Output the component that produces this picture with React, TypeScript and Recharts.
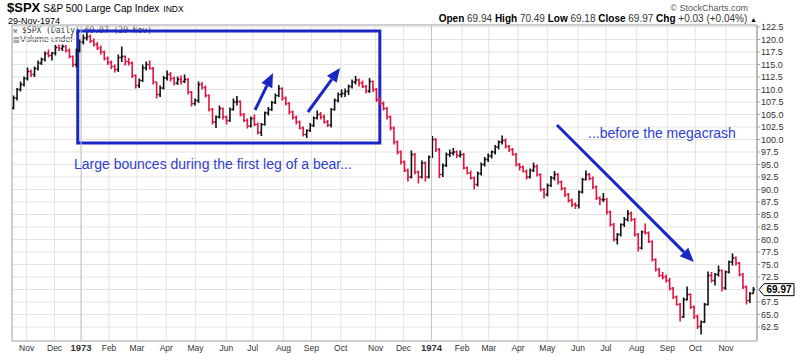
import { ComposedChart, Bar, XAxis, YAxis, CartesianGrid, ReferenceArea, ReferenceLine } from "recharts";

// half-week (2.5 trading day) OHLC, 20-Oct-1972 .. 29-Nov-1974
const halfHigh = [
  108.8, 110.3, 111.6, 112.6, 114.4, 114, 114.6, 115.8, 116.4, 117.6,
  118, 117.5, 118.9, 119, 119, 118.9, 118.2, 116.8, 118.2, 120,
  121, 121.3, 121, 120.2, 119.5, 118.8, 117.8, 116.6, 115.8, 115,
  117, 118.6, 116.8, 116.3, 115.6, 113, 112.2, 115, 115.6, 115.8,
  114.5, 111.5, 110.8, 112.7, 113.8, 113.5, 112.6, 112.6, 112.8, 113,
  112.3, 109.7, 108.2, 111.6, 111.5, 110.8, 109, 106.3, 104.8, 106.8,
  106.4, 104.8, 106.4, 108.2, 108.7, 107.8, 105.3, 104.2, 104.6, 105,
  103.4, 103.3, 105.6, 106.5, 107.7, 109.2, 110.9, 110.4, 108.6, 107.5,
  105.8, 104.8, 103.8, 102.6, 102, 103.3, 104.6, 105.8, 105.5, 105,
  103.9, 106.3, 108.2, 109.4, 110, 110.2, 111, 112, 112.7, 112.2,
  111.8, 110.9, 112.3, 111.8, 110.3, 108.5, 107.6, 106.5, 104.8, 102.6,
  99.8, 97.8, 95.8, 94.2, 97.8, 97.3, 93.8, 95.8, 95.6, 96.8,
  100.7, 100.3, 98.3, 95.2, 97.4, 98, 98.3, 97.8, 97.8, 97.3,
  94.6, 93.8, 92.6, 93.6, 95.4, 96.5, 97.2, 97.8, 98.9, 99.8,
  100.8, 100.2, 98.9, 98.3, 97.3, 95.3, 94.8, 94, 94.2, 95.4,
  95, 93.2, 90.3, 91.2, 92.7, 93.7, 93.3, 91.8, 90.5, 89.3,
  88.2, 87.4, 89.8, 92.3, 93.8, 93.3, 92.6, 90.8, 88.6, 89.3,
  88.3, 85.8, 83.3, 81.3, 83.2, 84.5, 85.9, 85.6, 84.3, 81.3,
  81.8, 83.2, 81.6, 79.8, 76.2, 74.3, 73.5, 73, 72.3, 70.5,
  68.8, 67.3, 68.4, 70.6, 69.2, 66.8, 65, 63.8, 67.3, 73.6,
  73.5, 73.3, 74.8, 74, 73.8, 75.8, 77.2, 76.6, 75.5, 73.3,
  70.8, 69.5, 70.5,
];
const halfLow = [
  106, 107.8, 109.6, 110.6, 111.8, 112.5, 112.5, 113.8, 114.9, 115.6,
  116.4, 115.8, 116.8, 117.7, 117.7, 117.4, 116.2, 114.5, 114.4, 117.4,
  119, 119.8, 119.3, 118.6, 117.9, 117, 115.8, 114.9, 114.1, 113.4,
  113.5, 115.5, 114.8, 114.8, 112.3, 110.2, 110.3, 111.5, 113.8, 114,
  111, 108.2, 108.5, 110, 111.8, 111.6, 110.8, 110.9, 111, 111.3,
  109, 106.6, 106.8, 107.3, 110, 108.4, 105.6, 103, 102.3, 104.2,
  104, 103, 103.5, 105.8, 106.8, 104.6, 103.5, 102.2, 102.4, 102.7,
  101, 100.7, 102.8, 104.8, 105.7, 107.1, 108.5, 107.8, 106.8, 105,
  104, 103, 102, 100.6, 100.3, 101.5, 102.5, 104, 104, 103.2,
  102.5, 102.4, 105.8, 107.4, 108.4, 108.5, 108.9, 110.2, 111, 110.6,
  110.3, 109.2, 109.3, 109.5, 107.5, 106.9, 105.8, 104, 101.8, 99,
  97, 95, 93.5, 91.6, 92.2, 93, 91.2, 92.2, 91.6, 92.2,
  96.3, 97.5, 92.3, 92.5, 94.5, 96.5, 96.8, 96.3, 96.4, 94,
  93, 92, 90, 90.6, 92.8, 94.6, 95.5, 96.2, 97, 98,
  99, 98.2, 97.5, 96.8, 94.6, 93.8, 93.4, 92, 92.2, 93.5,
  92.6, 89.6, 88.2, 88.6, 90.5, 91.8, 91, 89.8, 88.5, 87.4,
  86.5, 86.1, 86.2, 89.2, 91.8, 91.8, 90.1, 87.9, 86.9, 87.5,
  85, 82.6, 79.6, 79, 80.6, 82.5, 83.6, 83.6, 80.6, 77.6,
  78, 81, 79.3, 75.6, 73.6, 72.5, 72, 71.4, 69.8, 68.1,
  66.8, 63.6, 64.3, 67.8, 66.1, 64.1, 62.1, 61, 63.3, 66.8,
  71.4, 70.8, 72.6, 69.6, 69.9, 73.2, 74.8, 74.8, 72.6, 70.1,
  67, 67.3, 69.2,
];
const halfClose = [
  108.3, 110, 111, 112.2, 113.6, 113, 114.2, 115.3, 116, 117.2,
  116.8, 117.3, 118.4, 118.2, 118.6, 117.8, 116.6, 115, 117.8, 119.5,
  120.3, 120.6, 119.7, 119, 118.3, 117.5, 116.2, 115.4, 114.6, 114,
  116.4, 116.6, 115.6, 115.3, 112.8, 110.8, 111.8, 114.3, 115, 114.2,
  111.5, 109, 110.3, 112.3, 113, 112.2, 111.3, 112, 111.6, 112,
  109.5, 107.2, 107.8, 111, 110.4, 108.8, 106, 103.5, 104.5, 106.2,
  104.5, 103.8, 106, 107.5, 107.6, 105, 103.8, 102.7, 104.2, 103,
  101.4, 103, 105.3, 106, 107.4, 108.8, 110.2, 108.3, 107.2, 105.5,
  104.4, 103.5, 102.3, 101, 101.8, 102.8, 104.3, 105, 104.5, 103.5,
  102.9, 106, 107.8, 109, 109.2, 109.6, 110.6, 111.5, 111.9, 111.3,
  110.6, 109.7, 111.6, 110, 108, 107.2, 106.2, 104.5, 102.3, 99.5,
  97.5, 95.5, 93.8, 92.5, 97, 93.5, 92.5, 95.3, 92.5, 96.5,
  100, 98, 93, 94.8, 97, 97.3, 97.5, 96.8, 97, 94.3,
  93.3, 92.3, 91, 93.2, 95, 96, 96.7, 97.5, 98.5, 99.5,
  99.8, 98.6, 98, 97, 95, 94.5, 93.6, 92.5, 93.8, 94.6,
  93, 90, 89, 90.8, 92.3, 93, 91.5, 90.2, 89, 87.8,
  87, 86.8, 89.5, 92, 93, 92.2, 90.5, 88.3, 88, 88,
  85.5, 83, 80, 81, 83, 84, 85.2, 84, 81, 78.3,
  81.5, 81.3, 79.6, 76, 74, 72.8, 72.5, 71.8, 70.2, 68.5,
  67, 64.5, 68, 69, 66.5, 64.6, 62.6, 63.5, 67, 72.8,
  71.8, 73, 73.8, 70.3, 73.5, 75.5, 76.3, 75.3, 73, 70.5,
  67.8, 69.2, 69.97,
];
const firstOpen = 106.3;
const lastClose = 69.97;

// x = trading day index from 20-Oct-1972
const monthTicks = [10, 30, 49, 69, 89, 110, 131, 153, 172, 194, 214, 235, 260, 280, 300, 322, 341, 362, 383, 405, 425, 447, 469, 489, 511];
const monthLabels = ["Nov", "Dec", "1973", "Feb", "Mar", "Apr", "May", "Jun", "Jul", "Aug", "Sep", "Oct", "Nov", "Dec", "1974", "Feb", "Mar", "Apr", "May", "Jun", "Jul", "Aug", "Sep", "Oct", "Nov"];
const yearTicks = [49, 300];
const priceTicks = [62.5, 65, 67.5, 70, 72.5, 75, 77.5, 80, 82.5, 85, 87.5, 90, 92.5, 95, 97.5, 100, 102.5, 105, 107.5, 110, 112.5, 115, 117.5, 120, 122.5];

// annotations (data coordinates)
const bounceBox = { x1: 46.6, x2: 263, y1: 99.3, y2: 121.7 };
const bounceArrows = [
  [{ x: 173.6, y: 105.9 }, { x: 186.5, y: 113.3 }],
  [{ x: 211.5, y: 105.5 }, { x: 234.5, y: 114.3 }],
];
const crashArrow = [{ x: 389.9, y: 102.9 }, { x: 488, y: 75.5 }];

const X_DOMAIN = [-0.5, 533.2];
const Y_DOMAIN = [59.7, 122.9];
const RED = "#e0143f";
const BLUE = "#1b27c4";
const TEXT_BLUE = "#3040d0";
const FONT = "'Liberation Sans', Arial, sans-serif";

const data = halfClose.map((close, i) => ({
  d: 2.5 * i + 0.75,
  range: [halfLow[i], halfHigh[i]],
  open: i === 0 ? firstOpen : halfClose[i - 1],
  close,
}));

function OhlcStick(props: any) {
  const { x, y, width, height, payload } = props;
  if (!payload) return null;
  const [lo, hi] = payload.range;
  const top = Math.min(y, y + height);
  const h = Math.abs(height);
  const yOf = (v: number) => top + ((hi - v) / (hi - lo)) * h;
  const cx = x + width / 2;
  const color = payload.close < payload.open ? RED : "#111";
  return (
    <g stroke={color} strokeWidth={1.6}>
      <line x1={cx} y1={top} x2={cx} y2={top + h} />
      <line x1={x} y1={yOf(payload.open)} x2={cx} y2={yOf(payload.open)} />
      <line x1={cx} y1={yOf(payload.close)} x2={x + width} y2={yOf(payload.close)} />
    </g>
  );
}

function Arrow(props: any) {
  const { x1, y1, x2, y2 } = props;
  const ang = Math.atan2(y2 - y1, x2 - x1);
  const len = 14;
  const half = 6;
  const bx = x2 - len * Math.cos(ang);
  const by = y2 - len * Math.sin(ang);
  const px = -Math.sin(ang) * half;
  const py = Math.cos(ang) * half;
  return (
    <g>
      <line x1={x1} y1={y1} x2={bx} y2={by} stroke={BLUE} strokeWidth={3} />
      <polygon points={`${x2},${y2} ${bx + px},${by + py} ${bx - px},${by - py}`} fill={BLUE} />
    </g>
  );
}

function MonthTick(props: any) {
  const { x, y, payload } = props;
  const label = monthLabels[monthTicks.indexOf(payload.value)] ?? "";
  const isYear = /^\d{4}$/.test(label);
  return (
    <text x={x} y={y} dy={10} textAnchor="middle" fontFamily={FONT} fontSize={isYear ? 9.5 : 8.5} fontWeight={isYear ? 700 : 400} fill="#333">
      {label}
    </text>
  );
}

function PriceTag(props: any) {
  const { viewBox } = props;
  if (!viewBox) return null;
  const x = viewBox.x + viewBox.width + 2;
  const y = viewBox.y;
  return (
    <g>
      <polygon points={`${x},${y} ${x + 5},${y - 6} ${x + 35},${y - 6} ${x + 35},${y + 6} ${x + 5},${y + 6}`} fill="#fff" stroke="#000" strokeWidth={1} />
      <text x={x + 20} y={y + 3.5} textAnchor="middle" fontFamily={FONT} fontSize={10} fontWeight={700} fill="#000">
        {lastClose.toFixed(2)}
      </text>
    </g>
  );
}

export default function App() {
  return (
    <div style={{ position: "absolute", left: 0, top: 0, width: 800, height: 354, background: "#fff", fontFamily: FONT, overflow: "hidden" }}>
      {/* header */}
      <div style={{ position: "absolute", left: 7, top: 1, display: "flex", alignItems: "baseline", whiteSpace: "nowrap", color: "#000", lineHeight: "14px" }}>
        <span style={{ fontSize: 13, fontWeight: 700 }}>$SPX</span>
        <span style={{ fontSize: 10, marginLeft: 3 }}>S&amp;P 500 Large Cap Index</span>
        <span style={{ fontSize: 8.5, marginLeft: 4 }}>INDX</span>
      </div>
      <div style={{ position: "absolute", left: 8, top: 16, fontSize: 9, lineHeight: "10px", color: "#000" }}>29-Nov-1974</div>
      <div style={{ position: "absolute", right: 52, top: 3, fontSize: 9, lineHeight: "10px", color: "#555" }}>© StockCharts.com</div>
      <div style={{ position: "absolute", right: 43, top: 13, fontSize: 10, lineHeight: "11px", color: "#000", whiteSpace: "nowrap" }}>
        <b>Open</b> <span style={{ color: "#333" }}>69.94</span> <b>High</b> <span style={{ color: "#333" }}>70.49</span> <b>Low</b>{" "}
        <span style={{ color: "#333" }}>69.18</span> <b>Close</b> <span style={{ color: "#333" }}>69.97</span> <b>Chg</b>{" "}
        <span style={{ color: "#333" }}>+0.03 (+0.04%)</span> <span style={{ fontSize: 7 }}>▲</span>
      </div>
      {/* in-chart legend (under the plot layer, so the box line crosses it) */}
      <div style={{ position: "absolute", left: 13, top: 26, fontFamily: "'DejaVu Sans Mono', monospace", fontSize: 8, lineHeight: "9px", color: "#333", whiteSpace: "nowrap" }}>
        <span style={{ fontSize: 7 }}>⚒</span> $SPX (Daily) 69.97 (29-Nov)
      </div>
      <div style={{ position: "absolute", left: 13, top: 34, fontSize: 8.6, lineHeight: "10px", color: "#444", whiteSpace: "nowrap" }}>
        <span style={{ fontSize: 7 }}>▥</span>Volume undef
      </div>
      <div style={{ position: "absolute", left: 0, top: 0 }}>
        <ComposedChart width={800} height={354} data={data} margin={{ top: 25, right: 0, bottom: 0, left: 12 }}>
          <CartesianGrid stroke="#e3e3e3" strokeWidth={1} />
          <XAxis
            dataKey="d"
            type="number"
            domain={X_DOMAIN}
            ticks={monthTicks}
            allowDataOverflow
            height={13}
            axisLine={false}
            tickLine={false}
            tickSize={0}
            tickMargin={0}
            tick={<MonthTick />}
            interval={0}
          />
          <YAxis
            orientation="right"
            type="number"
            domain={Y_DOMAIN}
            ticks={priceTicks}
            allowDataOverflow
            width={43}
            tickSize={3}
            tickMargin={1}
            axisLine={{ stroke: "#aaa" }}
            tickLine={{ stroke: "#aaa" }}
            tickFormatter={(v: number) => (v === 70 ? "" : v.toFixed(1))}
            tick={{ fontSize: 9, fill: "#333", fontFamily: FONT }}
            interval={0}
          />
          {yearTicks.map((t) => (
            <ReferenceLine key={t} x={t} stroke="#c4c4c4" strokeWidth={1} />
          ))}
          <ReferenceArea x1={X_DOMAIN[0]} x2={X_DOMAIN[1]} y1={Y_DOMAIN[0]} y2={Y_DOMAIN[1]} fill="none" stroke="#aaa" strokeWidth={1} />
          <Bar dataKey="range" barSize={4} shape={<OhlcStick />} isAnimationActive={false} />
          <ReferenceArea {...bounceBox} fill="none" stroke={BLUE} strokeWidth={3} />
          {bounceArrows.map((seg, i) => (
            <ReferenceLine key={i} segment={seg} shape={(p: any) => <Arrow {...p} />} />
          ))}
          <ReferenceLine segment={crashArrow} shape={(p: any) => <Arrow {...p} />} />
          <ReferenceLine y={lastClose} stroke="none" label={(p: any) => <PriceTag {...p} />} />
        </ComposedChart>
      </div>
      <div style={{ position: "absolute", left: 74, top: 156, fontSize: 14, color: TEXT_BLUE, whiteSpace: "nowrap" }}>
        Large bounces during the first leg of a bear...
      </div>
      <div style={{ position: "absolute", left: 588, top: 125, fontSize: 14, color: TEXT_BLUE, whiteSpace: "nowrap" }}>
        ...before the megacrash
      </div>
    </div>
  );
}
